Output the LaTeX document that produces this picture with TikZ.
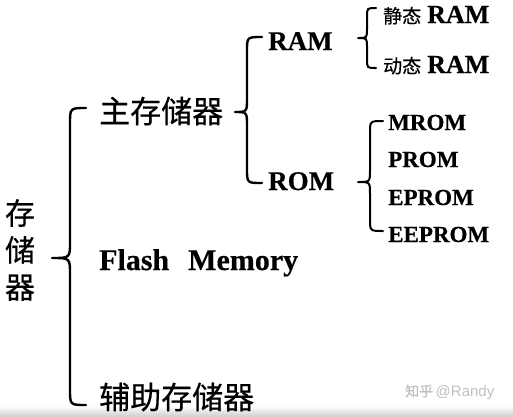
\documentclass[tikz,border=0pt]{standalone}
\usepackage{fontspec}
\setmainfont{Liberation Serif}[BoldFeatures={FakeBold=0.4}]
\newfontfamily\cjk{Noto Sans CJK SC}[FakeBold=0.5]
\newfontfamily\wmfont{Liberation Sans}
\newcommand\drawbrace[7]{%
  \draw[bracestyle] (#1,#4) .. controls (#2,#4) .. (#2,{#4+#7})
    -- (#2,{#5-#7}) .. controls (#2,#5) .. (#3,#5)
    .. controls (#2,#5) .. (#2,{#5+#7})
    -- (#2,{#6-#7}) .. controls (#2,#6) .. (#1,#6);}
\tikzset{
  bracestyle/.style={line width=2.4pt, line cap=round, line join=round},
  cjkbig/.style={inner sep=0pt, anchor=west, font=\cjk\fontsize{31}{31}\selectfont},
  latbig/.style={inner sep=0pt, anchor=base west, font=\bfseries\fontsize{27}{27}\selectfont},
  latmid/.style={inner sep=0pt, anchor=base west, font=\bfseries\fontsize{23}{23}\selectfont},
}
\begin{document}
\begin{tikzpicture}[x=1pt,y=-1pt]
\useasboundingbox (0,0) rectangle (513,416);
\shade[top color=white, bottom color=black!18] (0,406) rectangle (513,416);
% root
\node[inner sep=0pt, font=\cjk\fontsize{30}{37}\selectfont, align=center] (root) at (20,250) {存\\储\\器};
% level 1
\node[cjkbig] (main) at (99,111) {主存储器};
\node[inner sep=0pt, anchor=base west, font=\bfseries\fontsize{30}{30}\selectfont] (flash) at (99,270) {Flash\hspace{19pt}Memory};
\node[cjkbig] (aux) at (99,397) {辅助存储器};
% level 2
\node[latbig] (ram) at (268,50) {RAM};
\node[latbig] (rom) at (268,190) {ROM};
% level 3
\node[inner sep=0pt, anchor=base west] (sram) at (383,23) {{\cjk\fontsize{19}{19}\selectfont 静态}\hspace{6pt}{\bfseries\fontsize{26}{26}\selectfont RAM}};
\node[inner sep=0pt, anchor=base west] (dram) at (383,73) {{\cjk\fontsize{19}{19}\selectfont 动态}\hspace{6pt}{\bfseries\fontsize{26}{26}\selectfont RAM}};
\node[latmid] (mrom) at (388,130) {MROM};
\node[latmid] (prom) at (388,167) {PROM};
\node[latmid] (eprom) at (388,205) {EPROM};
\node[latmid] (eeprom) at (388,242) {EEPROM};
% braces
\drawbrace{86}{70}{52}{108}{258}{405}{16}
\drawbrace{262}{247}{235}{37}{112}{183}{14}
\begin{scope}[bracestyle/.append style={line width=2pt}]
\drawbrace{376}{367}{358}{8}{38}{68}{9}
\drawbrace{383}{370}{358}{121}{182}{231}{12}
\end{scope}
% watermark
\node[inner sep=0pt, anchor=west, text=black!25] (wm) at (405,392) {{\cjk\fontsize{14}{14}\selectfont 知乎} {\wmfont\fontsize{15}{15}\selectfont @Randy}};
\end{tikzpicture}
\end{document}
